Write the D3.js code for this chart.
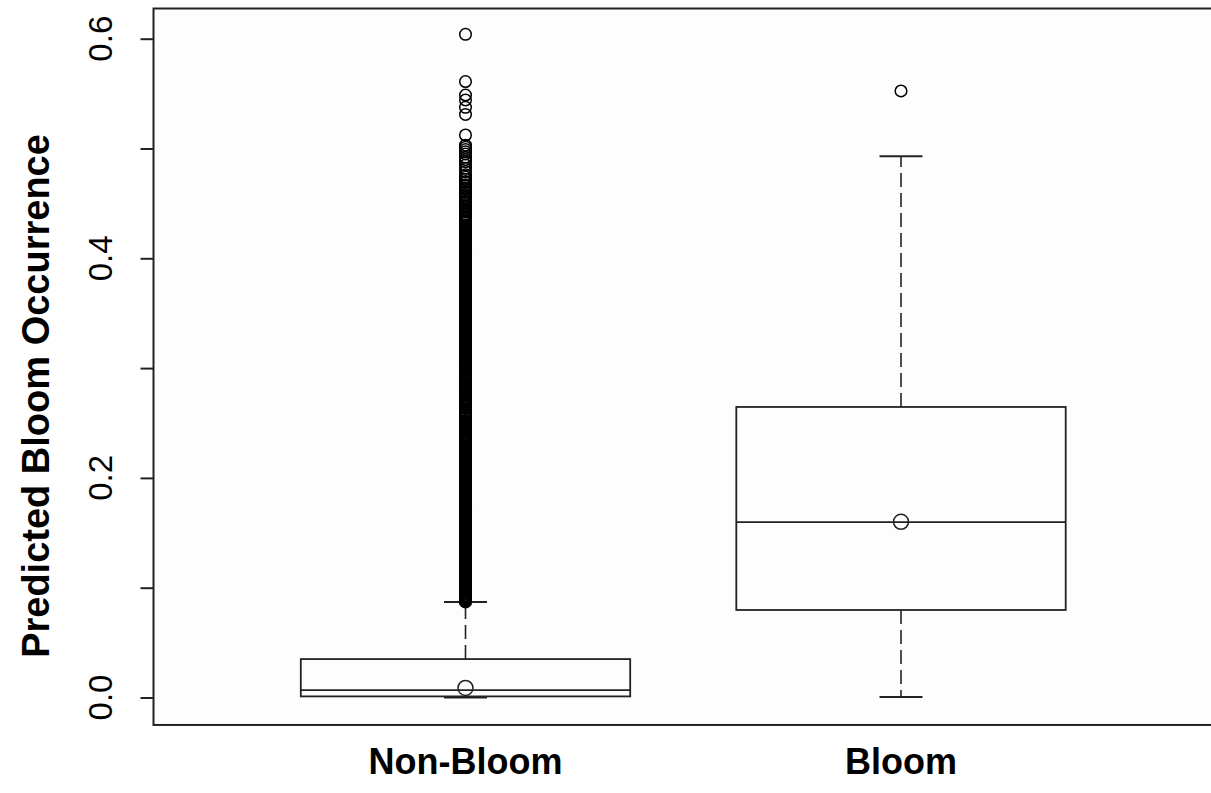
<!DOCTYPE html>
<html>
<head>
<meta charset="utf-8">
<script src="https://cdn.jsdelivr.net/npm/d3@7"></script>
<style>
  body { margin: 0; background: #fff; }
  svg { display: block; }
</style>
</head>
<body>
<div id="body"></div>
<script>
// data
var categories = ["Non-Bloom", "Bloom"];
var lowerWhisker = [0.0, 0.0005];
var q1 = [0.001, 0.0797];
var median = [0.0068, 0.1598];
var q3 = [0.035, 0.2646];
var upperWhisker = [0.087, 0.493];
var means = [0.0087, 0.160];
var yTicks = [0, 0.1, 0.2, 0.3, 0.4, 0.5, 0.6];
var yTickLabels = ["0.0", "", "0.2", "", "0.4", "", "0.6"];

var bloomOutliers = [0.5524];
var nonBloomOutliers = [
  0.087, 0.088, 0.089, 0.090, 0.091, 0.092, 0.093, 0.094, 0.095, 0.096, 0.097, 0.098, 0.099,
  0.100, 0.101, 0.102, 0.103, 0.104, 0.105, 0.106, 0.107, 0.108, 0.109, 0.110, 0.111, 0.112,
  0.113, 0.114, 0.115, 0.116, 0.117, 0.118, 0.119, 0.120, 0.121, 0.122, 0.123, 0.124, 0.125,
  0.126, 0.127, 0.128, 0.129, 0.130, 0.131, 0.132, 0.133, 0.134, 0.135, 0.136, 0.137, 0.138,
  0.139, 0.140, 0.141, 0.142, 0.143, 0.144, 0.145, 0.146, 0.147, 0.148, 0.149, 0.150, 0.151,
  0.152, 0.153, 0.154, 0.155, 0.156, 0.157, 0.158, 0.159, 0.160, 0.161, 0.162, 0.163, 0.164,
  0.165, 0.166, 0.167, 0.168, 0.169, 0.170, 0.171, 0.172, 0.173, 0.174, 0.175, 0.176, 0.177,
  0.178, 0.179, 0.180, 0.181, 0.182, 0.183, 0.184, 0.185, 0.186, 0.187, 0.188, 0.189, 0.190,
  0.191, 0.192, 0.193, 0.194, 0.195, 0.196, 0.197, 0.198, 0.199, 0.200, 0.201, 0.202, 0.203,
  0.204, 0.205, 0.206, 0.207, 0.208, 0.209, 0.210, 0.211, 0.212, 0.213, 0.214, 0.215, 0.216,
  0.217, 0.218, 0.219, 0.220, 0.221, 0.222, 0.223, 0.224, 0.225, 0.226, 0.227, 0.228, 0.229,
  0.230, 0.231, 0.232, 0.233, 0.234, 0.235,
  0.236, 0.237, 0.238, 0.239, 0.240, 0.242, 0.243, 0.244, 0.245, 0.246, 0.247, 0.248, 0.249,
  0.250, 0.251, 0.252, 0.254, 0.255, 0.256, 0.257, 0.258, 0.259, 0.260, 0.261, 0.263, 0.264,
  0.265, 0.266, 0.267, 0.268, 0.269, 0.270, 0.271, 0.272, 0.273, 0.275, 0.276, 0.277, 0.278,
  0.279, 0.280, 0.281, 0.282, 0.283, 0.284, 0.285, 0.286, 0.287, 0.289, 0.290, 0.291, 0.292,
  0.293, 0.294, 0.295, 0.297, 0.298, 0.299, 0.300, 0.301, 0.302, 0.303, 0.304, 0.305, 0.306,
  0.307, 0.308, 0.310, 0.311, 0.312, 0.313, 0.314, 0.315, 0.316, 0.318, 0.319, 0.320,
  0.321, 0.322, 0.323, 0.324, 0.325, 0.326, 0.327, 0.328, 0.329, 0.330, 0.331, 0.332, 0.333,
  0.334, 0.335, 0.336, 0.337, 0.338, 0.339, 0.340, 0.341, 0.342, 0.343, 0.344, 0.345, 0.346,
  0.347, 0.348, 0.349, 0.350, 0.351, 0.352, 0.353, 0.354, 0.355, 0.356, 0.357, 0.358, 0.359,
  0.360, 0.361, 0.362, 0.363, 0.364, 0.365, 0.366, 0.367, 0.368, 0.369, 0.370, 0.371, 0.372,
  0.373, 0.374, 0.375, 0.376, 0.377, 0.378, 0.379, 0.380, 0.381, 0.382, 0.383, 0.384, 0.385,
  0.386, 0.387, 0.388, 0.389, 0.390, 0.391, 0.392, 0.393, 0.394, 0.395, 0.396, 0.397, 0.398,
  0.399, 0.400, 0.401, 0.402, 0.403, 0.404, 0.405, 0.406, 0.407, 0.408, 0.409, 0.410, 0.411,
  0.412, 0.413, 0.414, 0.415, 0.416, 0.417, 0.418, 0.419, 0.420, 0.421, 0.422, 0.423, 0.424,
  0.425, 0.426, 0.427, 0.428, 0.429, 0.430, 0.432, 0.433, 0.434, 0.435, 0.437, 0.438, 0.439,
  0.440, 0.442, 0.443, 0.444, 0.446, 0.447, 0.448, 0.450, 0.451, 0.452, 0.454, 0.455, 0.457,
  0.458, 0.460, 0.461, 0.463, 0.464, 0.466, 0.467, 0.469, 0.470, 0.472, 0.474,
  0.476, 0.479, 0.482, 0.485, 0.488, 0.490, 0.492, 0.495, 0.497, 0.499, 0.501, 0.503,
  0.5123, 0.531, 0.5375, 0.5442, 0.5487, 0.561, 0.604
];
var outliers = [nonBloomOutliers, bloomOutliers];

window.onload = renderGraph;

function renderGraph() {
  const width = 1211;
  const height = 793;
  const ink = "#222";

  const svg = d3.select("#body")
                .append("svg")
                .attr("width", width)
                .attr("height", height);

  const yScale = d3.scaleLinear()
                   .domain([0, 0.6])
                   .range([697.5, 38.7]);

  const xScale = d3.scalePoint()
                   .domain(categories)
                   .range([465.5, 901]);

  const frameLeft = 153.5;
  const boxHalf = 164.7;
  const capHalf = 21.5;

  // plot frame, 4% past the data range as R does; right side runs off the page
  const frameTop = yScale(0.6275);
  const frameBottom = yScale(-0.025);
  svg.append("rect")
     .attr("x", frameLeft)
     .attr("y", frameTop)
     .attr("width", width + 10 - frameLeft)
     .attr("height", frameBottom - frameTop)
     .attr("fill", "#fdfdfd")
     .attr("stroke", ink)
     .attr("stroke-width", 2);

  // y axis
  const yAxis = d3.axisLeft(yScale)
                  .tickValues(yTicks)
                  .tickSize(13)
                  .tickFormat("");
  const yAxisGroup = svg.append("g")
                        .attr("id", "y-axis")
                        .attr("transform", "translate(" + frameLeft + ", 0)")
                        .call(yAxis);
  yAxisGroup.select(".domain").remove();
  yAxisGroup.selectAll(".tick line")
            .attr("stroke", ink)
            .attr("stroke-width", 2);

  svg.append("g")
     .selectAll("text")
     .data(yTicks)
     .enter()
     .append("text")
     .attr("transform", (d) => "translate(112," + yScale(d) + ") rotate(-90)")
     .attr("text-anchor", "middle")
     .attr("font-family", "Liberation Sans, Arial, sans-serif")
     .attr("font-size", 33)
     .attr("fill", "#000")
     .text((d, i) => yTickLabels[i]);

  svg.append("text")
     .attr("transform", "translate(49,396) rotate(-90)")
     .attr("text-anchor", "middle")
     .attr("font-family", "Liberation Sans, Arial, sans-serif")
     .attr("font-weight", "bold")
     .attr("font-size", 38)
     .attr("fill", "#000")
     .text("Predicted Bloom Occurrence");

  // category labels
  svg.append("g")
     .selectAll("text")
     .data(categories)
     .enter()
     .append("text")
     .attr("x", (d) => xScale(d))
     .attr("y", 774)
     .attr("text-anchor", "middle")
     .attr("font-family", "Liberation Sans, Arial, sans-serif")
     .attr("font-weight", "bold")
     .attr("font-size", 36)
     .attr("fill", "#000")
     .text((d) => d);

  const boxes = svg.append("g")
                   .selectAll("g")
                   .data(categories)
                   .enter()
                   .append("g")
                   .attr("class", "box");

  // dashed whiskers
  boxes.append("line")
       .attr("x1", (d) => xScale(d))
       .attr("x2", (d) => xScale(d))
       .attr("y1", (d, i) => yScale(q3[i]))
       .attr("y2", (d, i) => yScale(upperWhisker[i]))
       .attr("stroke", ink)
       .attr("stroke-width", 1.6)
       .attr("stroke-dasharray", "14,6");
  boxes.append("line")
       .attr("x1", (d) => xScale(d))
       .attr("x2", (d) => xScale(d))
       .attr("y1", (d, i) => yScale(q1[i]))
       .attr("y2", (d, i) => yScale(lowerWhisker[i]))
       .attr("stroke", ink)
       .attr("stroke-width", 1.6)
       .attr("stroke-dasharray", "14,6");

  // whisker caps
  [upperWhisker, lowerWhisker].forEach(function(w) {
    boxes.append("line")
         .attr("x1", (d) => xScale(d) - capHalf)
         .attr("x2", (d) => xScale(d) + capHalf)
         .attr("y1", (d, i) => yScale(w[i]))
         .attr("y2", (d, i) => yScale(w[i]))
         .attr("stroke", ink)
         .attr("stroke-width", 2);
  });

  // box and median
  boxes.append("rect")
       .attr("x", (d) => xScale(d) - boxHalf)
       .attr("y", (d, i) => yScale(q3[i]))
       .attr("width", boxHalf * 2)
       .attr("height", (d, i) => yScale(q1[i]) - yScale(q3[i]))
       .attr("fill", "none")
       .attr("stroke", ink)
       .attr("stroke-width", 1.8);
  boxes.append("line")
       .attr("x1", (d) => xScale(d) - boxHalf)
       .attr("x2", (d) => xScale(d) + boxHalf)
       .attr("y1", (d, i) => yScale(median[i]))
       .attr("y2", (d, i) => yScale(median[i]))
       .attr("stroke", ink)
       .attr("stroke-width", 1.8);

  // outliers
  boxes.each(function(d, i) {
    d3.select(this)
      .selectAll("circle.out")
      .data(outliers[i])
      .enter()
      .append("circle")
      .attr("class", "out")
      .attr("cx", xScale(d))
      .attr("cy", (v) => yScale(v))
      .attr("r", 5.8)
      .attr("fill", "none")
      .attr("stroke", "#000")
      .attr("stroke-width", 1.5);
  });

  // means
  boxes.append("circle")
       .attr("cx", (d) => xScale(d))
       .attr("cy", (d, i) => yScale(means[i]))
       .attr("r", 7.5)
       .attr("fill", "none")
       .attr("stroke", ink)
       .attr("stroke-width", 1.5);
}
</script>
</body>
</html>
